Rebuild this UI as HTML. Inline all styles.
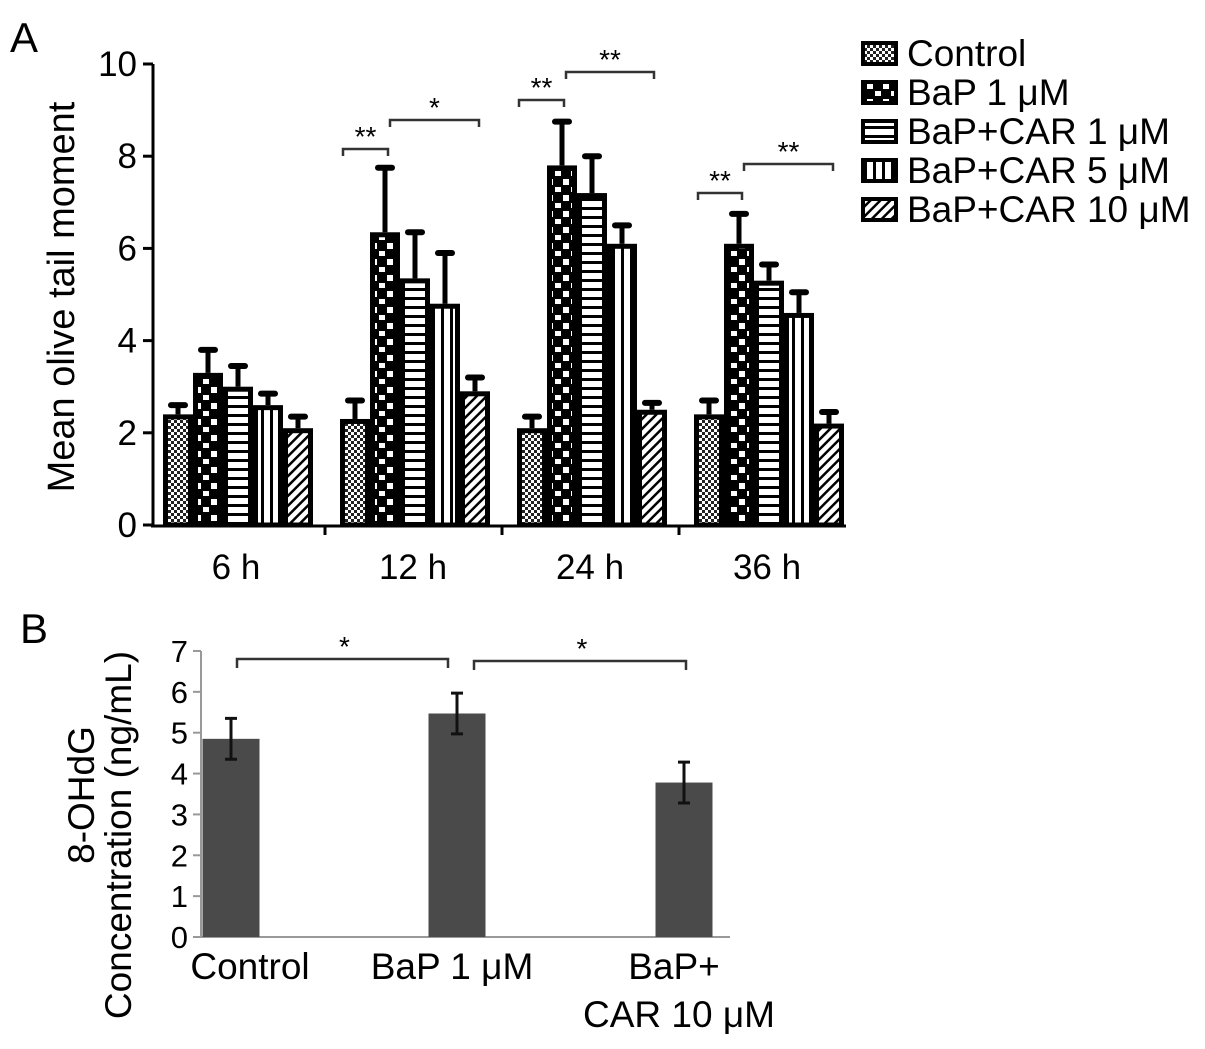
<!DOCTYPE html>
<html><head><meta charset="utf-8"><style>
body{margin:0;background:#fff}
svg{display:block;font-family:"Liberation Sans",Arial,sans-serif}
</style></head><body>
<svg id="fig" width="1205" height="1049" viewBox="0 0 1205 1049">
<defs>
<pattern id="p0" width="6" height="6" patternUnits="userSpaceOnUse"><rect width="6" height="6" fill="#fff"/><rect width="3" height="3" fill="#222"/><rect x="3" y="3" width="3" height="3" fill="#222"/></pattern>
<pattern id="p1" width="16" height="16" patternUnits="userSpaceOnUse"><rect width="16" height="16" fill="#000"/><rect x="3" y="3" width="6" height="6" fill="#fff"/><rect x="11" y="11" width="6" height="6" fill="#fff"/><rect x="-5" y="11" width="6" height="6" fill="#fff"/></pattern>
<pattern id="p2" width="8" height="9" patternUnits="userSpaceOnUse"><rect width="8" height="9" fill="#fff"/><rect y="0" width="8" height="3" fill="#000"/></pattern>
<pattern id="p3" width="9" height="8" patternUnits="userSpaceOnUse"><rect width="9" height="8" fill="#fff"/><rect x="0" width="3" height="8" fill="#000"/></pattern>
<pattern id="p4" width="7" height="7" patternUnits="userSpaceOnUse" patternTransform="rotate(45)"><rect width="7" height="7" fill="#fff"/><rect width="2.5" height="7" fill="#000"/></pattern>
</defs>
<g id="A"></g>
<g id="B"></g>
</svg>
<script>
// Panel A data
const timeLabels = ["6 h","12 h","24 h","36 h"];
const seriesNames = ["Control","BaP 1 μM","BaP+CAR 1 μM","BaP+CAR 5 μM","BaP+CAR 10 μM"];
const control = [2.4,2.3,2.1,2.4];
const bap1 = [3.3,6.35,7.8,6.1];
const car1 = [3.0,5.35,7.2,5.3];
const car5 = [2.6,4.8,6.1,4.6];
const car10 = [2.1,2.9,2.5,2.2];
const controlErr = [0.2,0.4,0.25,0.3];
const bap1Err = [0.5,1.4,0.95,0.65];
const car1Err = [0.45,1.0,0.8,0.35];
const car5Err = [0.25,1.1,0.4,0.45];
const car10Err = [0.25,0.3,0.15,0.25];
const yTicksA = [0,2,4,6,8,10];
// Panel B data
const groupsB = ["Control","BaP 1 μM","BaP+|CAR 10 μM"];
const valuesB = [4.85,5.47,3.78];
const errB = [0.5,0.5,0.5];
const yTicksB = [0,1,2,3,4,5,6,7];

const NS="http://www.w3.org/2000/svg";
function mk(tag,attrs,parent,text){const e=document.createElementNS(NS,tag);for(const k in attrs)e.setAttribute(k,attrs[k]);if(text!==undefined)e.textContent=text;parent.appendChild(e);return e;}
const A=document.getElementById('A'), B=document.getElementById('B');

// ---- Panel A
const yA=v=>525-v*46.1;
const groupStart=i=>163+i*177;
const barW=30;
let t;
t=mk('text',{x:10,y:52,'font-size':42},A,'A');


const series=[control,bap1,car1,car5,car10], errs=[controlErr,bap1Err,car1Err,car5Err,car10Err];
series.forEach((s,si)=>{
  s.forEach((v,gi)=>{
    const x=groupStart(gi)+si*barW, e=errs[si][gi];
    const l=mk('line',{x1:x+barW/2,x2:x+barW/2,y1:yA(v),y2:yA(v+e),stroke:'#000','stroke-width':5},A);
    
    
    const c=mk('line',{x1:x+barW/2-7,x2:x+barW/2+7,y1:yA(v+e),y2:yA(v+e),stroke:'#000','stroke-width':6,'stroke-linecap':'round'},A);
    
    
    const r=mk('rect',{x:x+2.5,y:yA(v)+2.5,width:barW-5,height:Math.max(0,yA(0)-yA(v)-2.5),fill:'url(#p'+si+')',stroke:'#000','stroke-width':5},A);
    
    
  });
});
// axes
mk('line',{x1:153,x2:153,y1:yA(10),y2:yA(0)+2,stroke:'#000','stroke-width':3},A);
mk('line',{x1:151,x2:846,y1:yA(0)+1,y2:yA(0)+1,stroke:'#000','stroke-width':3},A);
yTicksA.forEach(v=>{
  mk('line',{x1:143,x2:153,y1:yA(v),y2:yA(v),stroke:'#000','stroke-width':3},A);
  const tt=mk('text',{x:137,y:yA(v)+12,'font-size':35,'text-anchor':'end'},A,v);
  
  
});
timeLabels.forEach((lab,i)=>{
  const cx=groupStart(i)+2.5*barW;
  if(i<3) mk('line',{x1:groupStart(i)+5*barW+12,x2:groupStart(i)+5*barW+12,y1:yA(0),y2:yA(0)+10,stroke:'#000','stroke-width':3},A);
  const tt=mk('text',{x:cx-2,y:579,'font-size':35,'text-anchor':'middle'},A,lab);
  
  
});
t=mk('text',{x:0,y:0,'font-size':38,'text-anchor':'middle',transform:'translate(74,297) rotate(-90)'},A,'Mean olive tail moment');


// brackets
const bracketsA=[[343,388,149,'**'],[390,479,120,'*'],[519,564,100,'**'],[566,654,72,'**'],[698,742,193,'**'],[744,833,164,'**']];
bracketsA.forEach(b=>{
  const p=mk('path',{d:`M${b[0]},${b[2]+7}V${b[2]}H${b[1]}V${b[2]+7}`,fill:'none',stroke:'#333','stroke-width':2.5},A);
  
  
  mk('text',{x:(b[0]+b[1])/2,y:b[2]-3,'font-size':28,'text-anchor':'middle'},A,b[3]);
});
// legend
seriesNames.forEach((n,i)=>{
  const y=52+i*39;
  const g=mk('g',{},A);
  
  
  mk('rect',{x:863,y:y-9,width:33,height:21,fill:'url(#p'+i+')',stroke:'#000','stroke-width':4},g);
  mk('text',{x:907,y:y+14,'font-size':37},g,n);
});

// ---- Panel B
const yB=v=>937-v*40.86;
const centersB=[231,457,684];
const bwB=57;
t=mk('text',{x:20,y:643,'font-size':42},B,'B');


mk('line',{x1:201,x2:201,y1:yB(7),y2:yB(0),stroke:'#999','stroke-width':2},B);
mk('line',{x1:193,x2:730,y1:yB(0),y2:yB(0),stroke:'#999','stroke-width':2},B);
yTicksB.forEach(v=>{
  mk('line',{x1:193,x2:201,y1:yB(v),y2:yB(v),stroke:'#999','stroke-width':2},B);
  const tt=mk('text',{x:188,y:yB(v)+11,'font-size':31,'text-anchor':'end'},B,v);
  
  
});
valuesB.forEach((v,i)=>{
  const c=centersB[i];
  const r=mk('rect',{x:c-bwB/2,y:yB(v),width:bwB,height:yB(0)-yB(v),fill:'#4a4a4a'},B);
  
  
  const eb=mk('path',{d:`M${c-6},${yB(v+errB[i])}H${c+6}M${c},${yB(v+errB[i])}V${yB(v-errB[i])}M${c-6},${yB(v-errB[i])}H${c+6}`,stroke:'#111','stroke-width':3,fill:'none'},B);
  
  
});
const labB=[[250,979,'Control'],[452,979,'BaP 1 μM'],[674,979,'BaP+'],[679,1027,'CAR 10 μM']];
labB.forEach(l=>{
  const tt=mk('text',{x:l[0],y:l[1],'font-size':37,'text-anchor':'middle'},B,l[2]);
  
  
});
t=mk('text',{x:0,y:0,'font-size':37,'text-anchor':'middle',transform:'translate(94,795) rotate(-90)'},B,'8-OHdG');


t=mk('text',{x:0,y:0,'font-size':37,'text-anchor':'middle',transform:'translate(131,835) rotate(-90)'},B,'Concentration (ng/mL)');


const bracketsB=[[237,448,659],[474,686,661]];
bracketsB.forEach(b=>{
  const p=mk('path',{d:`M${b[0]},${b[2]+9}V${b[2]}H${b[1]}V${b[2]+9}`,fill:'none',stroke:'#333','stroke-width':2.5},B);
  
  
  mk('text',{x:(b[0]+b[1])/2+2,y:b[2]-3,'font-size':28,'text-anchor':'middle'},B,'*');
});
</script>
</body></html>
